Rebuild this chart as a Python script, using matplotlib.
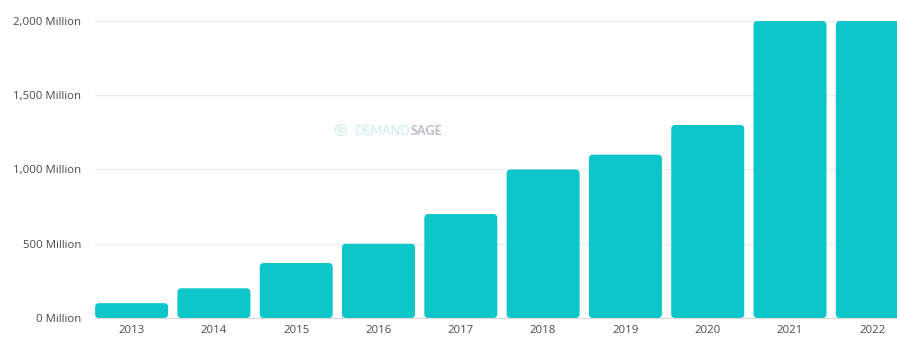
import matplotlib
matplotlib.use("Agg")
import matplotlib.pyplot as plt
from matplotlib.patches import FancyBboxPatch

years = ["2013", "2014", "2015", "2016", "2017", "2018", "2019", "2020", "2021", "2022"]
users = [100, 200, 370, 500, 700, 1000, 1100, 1300, 2000, 2000]
yticks = [0, 500, 1000, 1500, 2000]
ytick_labels = ["0 Million", "500 Million", "1,000 Million", "1,500 Million", "2,000 Million"]

bar_color = "#0cc6c9"
text_color = "#4a4a4a"

plt.rcParams["font.family"] = ["Open Sans", "DejaVu Sans"]

fig = plt.figure(figsize=(8.97, 3.37), dpi=100)
ax = fig.add_axes([0.1059, 0.0564, 0.8941, 0.8813])

bars = ax.bar(range(len(years)), users, width=0.887, color=bar_color, zorder=2)

# swap plain rectangles for slightly rounded ones
for b in bars:
    x, y = b.get_x(), b.get_y()
    w, h = b.get_width(), b.get_height()
    b.remove()
    rb = FancyBboxPatch((x, y), w, h,
                        boxstyle="round,pad=0,rounding_size=0.05",
                        mutation_aspect=540,
                        facecolor=bar_color, edgecolor="none", zorder=2)
    ax.add_patch(rb)

ax.set_xlim(-0.445, 9.30)
ax.set_ylim(0, 2000)
ax.set_xticks(range(len(years)))
ax.set_xticklabels(years)
ax.set_yticks(yticks)
ax.set_yticklabels(ytick_labels)
ax.tick_params(axis="both", length=0, colors=text_color, labelsize=8.2)
ax.tick_params(axis="y", pad=10)
ax.tick_params(axis="x", pad=5)

ax.grid(axis="y", color="#ececec", linewidth=0.9, zorder=0)
for s in ["top", "right", "left"]:
    ax.spines[s].set_visible(False)
ax.spines["bottom"].set_color("#d9d9d9")
ax.spines["bottom"].set_linewidth(0.8)

# faint watermark
fig.text(0.371, 0.611, "\u25CE", color="#bfe9e6", fontsize=11, ha="left", va="center")
fig.text(0.458, 0.611, "DEMAND", color="#c9eeec", fontsize=9, ha="right", va="center",
         family="Lato")
fig.text(0.458, 0.611, "SAGE", color="#b9bcc0", fontsize=9, fontweight="bold",
         ha="left", va="center", family="Lato")

plt.savefig("out.png", dpi=100)
